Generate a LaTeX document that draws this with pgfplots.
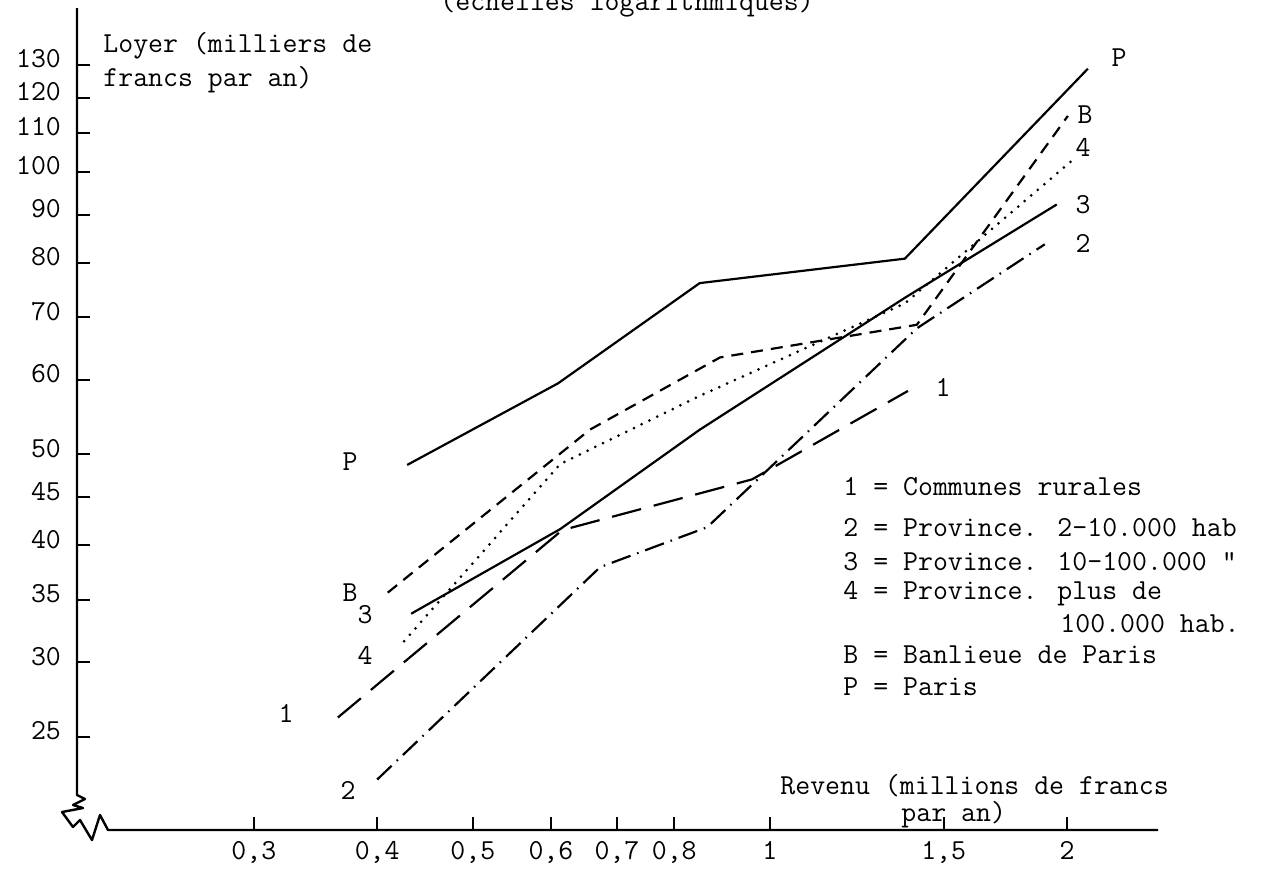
\documentclass[border=0pt]{standalone}
\usepackage{pgfplots}
\pgfplotsset{compat=1.18}
\newcommand{\tw}{\ttfamily\fontsize{14.5}{17}\selectfont}
\begin{document}
\begin{tikzpicture}
\useasboundingbox (0pt,0pt) rectangle (630.5pt,-434pt);
\begin{axis}[
  at={(38.5pt,-415pt)}, anchor=south west,
  scale only axis, width=540.5pt, height=411pt,
  xmode=log, ymode=log,
  xmin=0.1986, xmax=2.473, ymin=19.88, ymax=149.5,
  axis x line*=bottom, axis y line*=left,
  axis line style={draw=none},
  xtick={0.3,0.4,0.5,0.6,0.7,0.8,1,1.5,2},
  xticklabels={{0,3},{0,4},{0,5},{0,6},{0,7},{0,8},{1},{1,5},{2}},
  ytick={25,30,35,40,45,50,60,70,80,90,100,110,120,130},
  yticklabels={25,30,35,40,45,50,60,70,80,90,100,110,120,130},
  xminorticks=false, yminorticks=false,
  tick align=inside,
  major tick length=6.5pt,
  every tick/.style={black, line width=1pt},
  ticklabel style={font=\tw},
  xticklabel style={yshift=-2pt},
  yticklabel style={xshift=-4.5pt, yshift=3pt},
  clip=false,
]
% P = Paris (solid)
\addplot[black, no marks, line width=1.1pt, line join=round] coordinates {(0.429,48.7) (0.610,59.5) (0.849,76.1) (1.370,80.8) (2.100,128.8)};
% B = Banlieue (short dashes)
\addplot[black, no marks, line width=1.1pt, line join=round, dash pattern=on 6pt off 4pt] coordinates {(0.410,35.6) (0.657,53.1) (0.890,63.4) (1.409,68.7) (2.004,114.7)};
% 4 (dotted)
\addplot[black, no marks, line width=1.5pt, line cap=round, dash pattern=on 0pt off 4.3pt] coordinates {(0.426,31.6) (0.613,48.8) (0.849,57.7) (1.370,72.4) (2.028,103.0)};
% 3 (solid)
\addplot[black, no marks, line width=1.1pt, line join=round] coordinates {(0.433,33.8) (0.613,41.6) (0.849,53.1) (1.370,73.4) (1.953,92.3)};
% 1 (long dashes)
\addplot[black, no marks, line width=1.1pt, line join=round, dash pattern=on 15pt off 6.5pt] coordinates {(0.365,26.2) (0.616,41.5) (0.959,47.0) (1.380,58.4)};
% 2 (dash-dot)
\addplot[black, no marks, line width=1.1pt, line join=round, dash pattern=on 10pt off 3.5pt on 0.8pt off 3.5pt] coordinates {(0.400,22.5) (0.673,37.9) (0.864,41.8) (1.409,68.1) (1.899,83.7)};
\end{axis}
\begin{scope}[x=0.5pt,y=-0.5pt]
% axes drawn by hand with the break
\draw[line width=1.2pt, line join=round] (77,8) -- (77,795) -- (85,799) -- (73,805) -- (83,808) -- (62,812) -- (73,827) -- (80,820) -- (92,840) -- (100,815) -- (108,830) -- (1158,830);
% title (cut off at the top)
\node[font=\tw, anchor=base west, inner sep=0pt] at (440,10) {(échelles logarithmiques)};
% axis labels
\node[font=\tw, anchor=west, inner sep=0pt] at (103,46) {Loyer (milliers de};
\node[font=\tw, anchor=west, inner sep=0pt] at (103,80) {francs par an)};
\node[font=\tw, anchor=west, inner sep=0pt] at (780,786) {Revenu (millions de francs};
\node[font=\tw, anchor=west, inner sep=0pt] at (901,815) {par an)};
% series labels
\tikzset{lab/.style={font=\tw, inner sep=0pt}}
\node[lab] at (350,462) {P};
\node[lab] at (1119,58) {P};
\node[lab] at (350,593) {B};
\node[lab] at (1085,115) {B};
\node[lab] at (365,615) {3};
\node[lab] at (1083,205) {3};
\node[lab] at (365,655) {4};
\node[lab] at (1083,147) {4};
\node[lab] at (286,713) {1};
\node[lab] at (943,387) {1};
\node[lab] at (348,790) {2};
\node[lab] at (1083,243) {2};
% key
\tikzset{key/.style={font=\tw, anchor=west, inner sep=0pt}}
\node[key] at (843,487) {1 = Communes rurales};
\node[key] at (843,528) {2 = Province. 2-10.000 hab};
\node[key] at (843,562) {3 = Province. 10–100.000 "};
\node[key] at (843,594) {4 = Province. plus de};
\node[key] at (1060,624) {100.000 hab.};
\node[key] at (843,655) {B = Banlieue de Paris};
\node[key] at (843,687) {P = Paris};
\end{scope}
\end{tikzpicture}
\end{document}
